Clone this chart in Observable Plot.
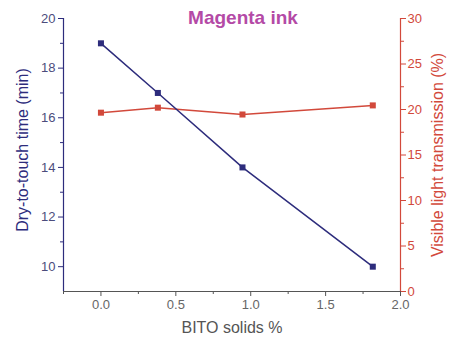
<!DOCTYPE html>
<html><head><meta charset="utf-8">
<script src="https://cdn.jsdelivr.net/npm/d3@7"></script>
<script src="https://cdn.jsdelivr.net/npm/@observablehq/plot@0.6"></script>
<style>body{margin:0;background:#fff;} svg{font-family:Arial,"Liberation Sans",sans-serif;}</style>
</head><body><div id="chart"></div>
<script>
const bito = [0.0, 0.38, 0.945, 1.815];
const dryTime = [19.0, 17.0, 14.0, 10.0];
const transmission = [19.65, 20.2, 19.45, 20.45];
const xTicks = [0.0, 0.5, 1.0, 1.5, 2.0];
const leftTicks = [10, 12, 14, 16, 18, 20];
const rightTicks = [0, 5, 10, 15, 20, 25, 30];
const title = "Magenta ink";
const xLabel = "BITO solids %";
const leftLabel = "Dry-to-touch time (min)";
const rightLabel = "Visible light transmission (%)";

const BLUE = "#2d2c7c", RED = "#d2493b", TITLE = "#b44aa6", GREY = "#666";
const yMin = 9, yMax = 20, rMin = 0, rMax = 30;
const toLeft = v => yMin + (v - rMin) * (yMax - yMin) / (rMax - rMin);
const fromLeft = y => rMin + (y - yMin) * (rMax - rMin) / (yMax - yMin);

const blueData = bito.map((x, i) => ({x, y: dryTime[i]}));
const redData = bito.map((x, i) => ({x, y: toLeft(transmission[i])}));

const xMinor = d3.range(-0.25, 2.0001, 0.25).filter(v => !xTicks.some(t => Math.abs(t - v) < 1e-6));
const leftMinor = [11, 13, 15, 17, 19];
const rightMinor = [2.5, 7.5, 12.5, 17.5, 22.5, 27.5];

const chart = Plot.plot({
  width: 462, height: 344,
  marginLeft: 63, marginRight: 62, marginTop: 18, marginBottom: 53,
  style: {fontFamily: "Arial, 'Liberation Sans', sans-serif", background: "#fff"},
  x: {domain: [-0.25, 2.0]},
  y: {domain: [yMin, yMax]},
  marks: [
    // bottom axis
    Plot.axisX(xTicks, {tickSize: 5, tickPadding: 3, fontSize: 13, color: GREY, stroke: "#555", tickFormat: d3.format(".1f"), label: null}),
    Plot.axisX(xMinor, {tickSize: 3, tickFormat: () => "", stroke: "#555", label: null}),
    // left axis
    Plot.axisY(leftTicks, {anchor: "left", tickSize: 5, tickPadding: 3, fontSize: 13, color: "#4c4c7c", stroke: BLUE, label: null}),
    Plot.axisY(leftMinor, {anchor: "left", tickSize: 3, tickFormat: () => "", stroke: BLUE, label: null}),
    // right axis
    Plot.axisY(rightTicks.map(toLeft), {anchor: "right", tickSize: 5, tickPadding: 2, fontSize: 13, color: RED, stroke: RED, tickFormat: d => String(Math.round(fromLeft(d))), label: null}),
    Plot.axisY(rightMinor.map(toLeft), {anchor: "right", tickSize: 3, tickFormat: () => "", stroke: RED, label: null}),
    Plot.ruleY([yMin], {stroke: "#555", strokeWidth: 1.2}),
    Plot.ruleX([-0.25], {stroke: BLUE, strokeWidth: 1.2}),
    Plot.ruleX([2.0], {stroke: RED, strokeWidth: 1.2}),
    // series
    Plot.line(redData, {x: "x", y: "y", stroke: RED, strokeWidth: 1.5}),
    Plot.dot(redData, {x: "x", y: "y", symbol: "square", r: 3.4, fill: RED, stroke: "none"}),
    Plot.line(blueData, {x: "x", y: "y", stroke: BLUE, strokeWidth: 1.5}),
    Plot.dot(blueData, {x: "x", y: "y", symbol: "square", r: 3.4, fill: BLUE, stroke: "none"}),
    // labels
    Plot.text([title], {frameAnchor: "top", textAnchor: "middle", lineAnchor: "bottom", dx: 11, dy: 5, fontSize: 19, fontWeight: "bold", fill: TITLE}),
    Plot.text([xLabel], {frameAnchor: "bottom", textAnchor: "middle", lineAnchor: "middle", dy: 36, fontSize: 16, fill: "#555"}),
    Plot.text([leftLabel], {frameAnchor: "left", textAnchor: "middle", lineAnchor: "middle", rotate: -90, dx: -41, dy: -5, fontSize: 16, fill: BLUE}),
    Plot.text([rightLabel], {frameAnchor: "right", textAnchor: "middle", lineAnchor: "middle", rotate: -90, dx: 37, fontSize: 16, fill: RED})
  ]
});
document.getElementById("chart").append(chart);
</script>
</body></html>
